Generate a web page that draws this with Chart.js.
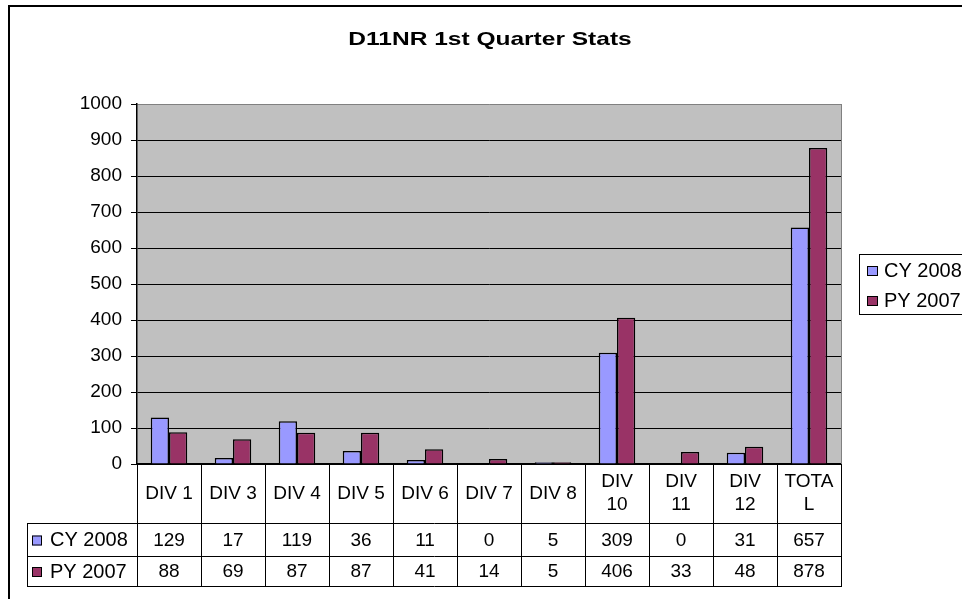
<!DOCTYPE html>
<html>
<head>
<meta charset="utf-8">
<script src="https://cdn.jsdelivr.net/npm/chart.js@4/dist/chart.umd.min.js"></script>
<style>
  html, body { margin: 0; padding: 0; background: #fff; }
  #wrap { width: 962px; height: 599px; position: relative; }
</style>
</head>
<body>
<div id="wrap"><canvas id="c" width="962" height="599"></canvas></div>
<script>
const chartTitle = 'D11NR 1st Quarter Stats';
const categories = [['DIV 1'], ['DIV 3'], ['DIV 4'], ['DIV 5'], ['DIV 6'], ['DIV 7'], ['DIV 8'], ['DIV', '10'], ['DIV', '11'], ['DIV', '12'], ['TOTA', 'L']];
const seriesNames = ['CY 2008', 'PY 2007'];
const cy2008 = [129, 17, 119, 36, 11, 0, 5, 309, 0, 31, 657];
const py2007 = [88, 69, 87, 87, 41, 14, 5, 406, 33, 48, 878];
const seriesColors = ['#9999FF', '#993366'];
const yTicks = [0, 100, 200, 300, 400, 500, 600, 700, 800, 900, 1000];

const FONT = '"Liberation Sans", Arial, sans-serif';

const excelPlugin = {
  id: 'excelLook',
  beforeDraw(chart) {
    const ctx = chart.ctx;
    const a = chart.chartArea;
    ctx.save();
    ctx.fillStyle = '#fff';
    ctx.fillRect(0, 0, chart.width, chart.height);
    ctx.fillStyle = '#C0C0C0';
    ctx.fillRect(a.left, a.top, a.right - a.left, a.bottom - a.top);
    ctx.restore();
  },
  afterDraw(chart) {
    const ctx = chart.ctx;
    const a = chart.chartArea;
    const xs = chart.scales.x;
    const n = categories.length;
    const step = (a.right - a.left) / n;
    ctx.save();
    // plot area right border (gray)
    ctx.strokeStyle = '#808080';
    ctx.lineWidth = 1;
    ctx.beginPath();
    ctx.moveTo(Math.round(a.right) + 0.5, a.top);
    ctx.lineTo(Math.round(a.right) + 0.5, a.bottom);
    ctx.stroke();

    // outer chart border
    ctx.strokeStyle = '#000';
    ctx.lineWidth = 2;
    ctx.strokeRect(9, 6, 2000, 2000);

    // title
    ctx.save();
    ctx.fillStyle = '#000';
    ctx.font = 'bold 19px ' + FONT;
    ctx.textAlign = 'center';
    ctx.textBaseline = 'middle';
    ctx.translate(490, 40);
    ctx.scale(1.29, 1);
    ctx.fillText(chartTitle, 0, 0);
    ctx.restore();

    // data table
    const rowTop = 523, rowMid = 556, rowBot = 586, tableLeft = 27;
    ctx.strokeStyle = '#000';
    ctx.lineWidth = 1;
    ctx.beginPath();
    for (let i = 0; i <= n; i++) {
      const xp = Math.round(xs.getPixelForValue(i) - step / 2) + 0.5;
      ctx.moveTo(xp, a.bottom);
      ctx.lineTo(xp, rowBot);
    }
    ctx.moveTo(tableLeft + 0.5, rowTop);
    ctx.lineTo(tableLeft + 0.5, rowBot);
    [rowTop, rowMid, rowBot].forEach(y => {
      ctx.moveTo(tableLeft, y + 0.5);
      ctx.lineTo(Math.round(a.right) + 1, y + 0.5);
    });
    ctx.stroke();

    ctx.fillStyle = '#000';
    ctx.textAlign = 'center';
    ctx.textBaseline = 'middle';
    const rows = [cy2008, py2007];
    const rowCenters = [(rowTop + rowMid) / 2 + 1, (rowMid + rowBot) / 2 + 1];
    rows.forEach((vals, r) => {
      ctx.font = '19px ' + FONT;
      vals.forEach((v, i) => {
        ctx.fillText(String(v), xs.getPixelForValue(i), rowCenters[r]);
      });
      ctx.fillStyle = seriesColors[r];
      ctx.fillRect(32, rowCenters[r] - 5, 10, 10);
      ctx.strokeStyle = '#000';
      ctx.strokeRect(32.5, rowCenters[r] - 4.5, 9, 9);
      ctx.fillStyle = '#000';
      ctx.textAlign = 'left';
      ctx.font = '20px ' + FONT;
      ctx.fillText(seriesNames[r], 50, rowCenters[r]);
      ctx.textAlign = 'center';
    });

    // legend
    ctx.fillStyle = '#fff';
    ctx.fillRect(859, 254, 200, 60);
    ctx.strokeStyle = '#000';
    ctx.lineWidth = 1;
    ctx.strokeRect(859.5, 254.5, 200, 60);
    ctx.font = '20px ' + FONT;
    ctx.textAlign = 'left';
    const legY = [271, 301];
    seriesNames.forEach((s, r) => {
      ctx.fillStyle = seriesColors[r];
      ctx.fillRect(867, legY[r] - 5, 11, 10);
      ctx.strokeStyle = '#000';
      ctx.strokeRect(867.5, legY[r] - 4.5, 10, 9);
      ctx.fillStyle = '#000';
      ctx.fillText(s, 884, legY[r]);
    });
    ctx.restore();
  }
};

const datasets = [cy2008, py2007].map((vals, i) => ({
  label: seriesNames[i],
  data: vals,
  backgroundColor: seriesColors[i],
  borderColor: '#000',
  borderWidth: 1.5,
  borderSkipped: 'start',
  categoryPercentage: 0.57,
  barPercentage: 1.0
}));

new Chart(document.getElementById('c'), {
  type: 'bar',
  data: { labels: categories, datasets: datasets },
  plugins: [excelPlugin],
  options: {
    responsive: false,
    animation: false,
    devicePixelRatio: 1,
    layout: { padding: { left: 0, top: 104, right: 121, bottom: 0 } },
    plugins: {
      legend: { display: false },
      title: { display: false },
      tooltip: { enabled: false }
    },
    scales: {
      x: {
        grid: { display: false, drawTicks: false },
        border: { display: true, color: '#000', width: 1.5 },
        ticks: {
          color: '#000',
          font: { family: FONT, size: 19 },
          maxRotation: 0, minRotation: 0, autoSkip: false,
          crossAlign: 'center',
          padding: 18
        },
        afterFit(scale) { scale.height = 135; }
      },
      y: {
        min: 0, max: 1000,
        afterBuildTicks(scale) { scale.ticks = yTicks.map(v => ({ value: v })); },
        grid: {
          color: (c) => (c.tick && c.tick.value === 1000) ? '#808080' : '#000',
          tickColor: '#000',
          lineWidth: 1,
          tickLength: 6,
          drawTicks: true
        },
        border: { display: true, color: '#000', width: 1.5 },
        ticks: {
          color: '#000',
          font: { family: FONT, size: 19 },
          padding: 9,
          callback: (v) => String(v)
        },
        afterFit(scale) { scale.width = 137; }
      }
    }
  }
});
</script>
</body>
</html>
